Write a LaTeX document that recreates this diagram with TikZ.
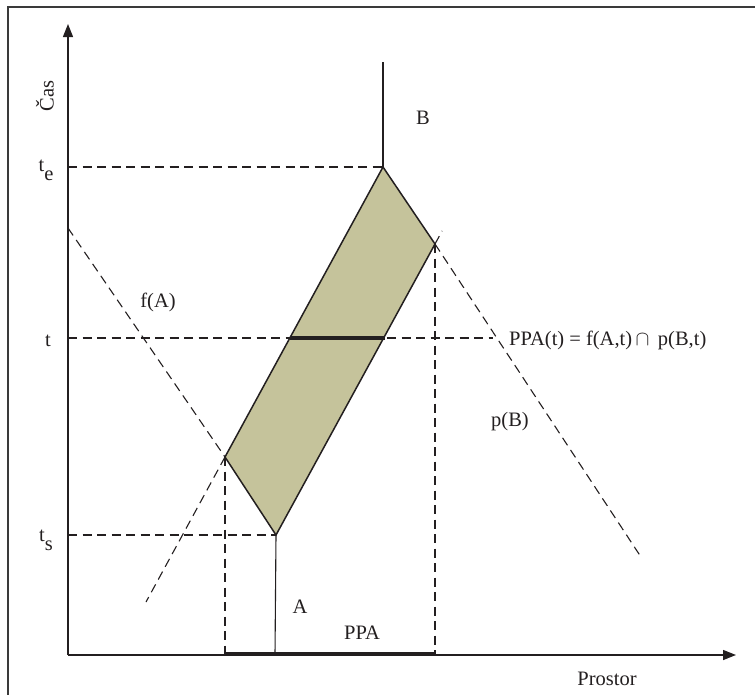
\documentclass[tikz,border=0pt]{standalone}
\usepackage{fontspec}
\setmainfont{Liberation Serif}
\usetikzlibrary{arrows.meta, calc}
\definecolor{areafill}{HTML}{C5C39B}
\definecolor{inkdark}{HTML}{231F20}
\definecolor{framegray}{HTML}{3A3A3A}

\begin{document}
\begin{tikzpicture}[
    x=1pt, y=-1pt,
    font=\fontsize{20.5}{24}\selectfont,
    axis/.style={line width=1.4pt, draw=inkdark, -{Triangle[length=13pt, width=10pt]}},
    guide/.style={dash pattern=on 9pt off 5.5pt, line width=1.1pt, draw=inkdark},
    edge/.style={line width=1.5pt, draw=inkdark, line join=miter},
    track/.style={line width=1.1pt, draw=inkdark},
    ppa/.style={line width=3.6pt, draw=inkdark},
    lbl/.style={inner sep=0pt, text=inkdark}
]
\useasboundingbox (0,0) rectangle (755,694);
\draw[framegray, line width=1.6pt] (8,700) |- (760,7);

% axes
\coordinate (origin) at (68,655);
\coordinate (ytop)   at (68,24);
\coordinate (xend)   at (736,655);
\node[lbl, rotate=90] (cas)     at (45,96)  {Čas};
\node[lbl]            (prostor) at (607,679) {Prostor};

% corners of the prism
\coordinate (A) at (276,535);
\coordinate (L) at (225,457);
\coordinate (B) at (383,167);
\coordinate (R) at (435,244);
\coordinate (btop) at (383,62);
\coordinate (abot) at (275,655);

\fill[areafill] (A) -- (L) -- (B) -- (R) -- cycle;

% time levels
\coordinate (tleft) at (68,338);
\coordinate (tend)  at (493,338);
\coordinate (tl)    at (289.5,338);
\coordinate (tr)    at (384.5,338);
\node[lbl] (te) at (46,170) {t\raisebox{-9pt}{e}};
\node[lbl] (tt) at (48,341) {t};
\node[lbl] (ts) at (46,540) {t\raisebox{-9pt}{s}};

\draw[guide] (origin |- B) -- (B);
\draw[guide] (tleft) -- (tend);
\draw[guide] (origin |- A) -- (A);
\draw[guide] (L) -- (L |- origin);
\draw[guide] (R) -- (R |- origin);

% cones
\coordinate (fstart) at (68,228);
\coordinate (pend)   at (641,557);
\draw[guide] (fstart) -- (L);
\draw[guide] (L) -- ($(L)!-0.5!(B)$);
\draw[guide] (R) -- ($(R)!-0.045!(A)$);
\draw[guide] (R) -- (pend);

\draw[edge] (A) -- (L) -- (B) -- (R) -- cycle;
\draw[track] (B) -- (btop);
\draw[track] (A) -- (abot);
\draw[ppa] (tl) -- (tr);
\draw[ppa] ($(L |- origin)+(0,-1.5)$) -- ($(R |- origin)+(1,-1.5)$);

\draw[axis] (origin) -- (ytop);
\draw[axis] (origin) -- (xend);

\node[lbl] (blbl)   at (423,118) {B};
\node[lbl] (albl)   at (300,607) {A};
\node[lbl] (ppalbl) at (362,633) {PPA};
\node[lbl] (flbl)   at (158,302) {f(A)};
\node[lbl] (plbl)   at (510,422) {p(B)};
\node[lbl, anchor=west] (ppat) at (509,340) {PPA(t) = f(A,t)\,$\cap$\, p(B,t)};
\end{tikzpicture}
\end{document}
